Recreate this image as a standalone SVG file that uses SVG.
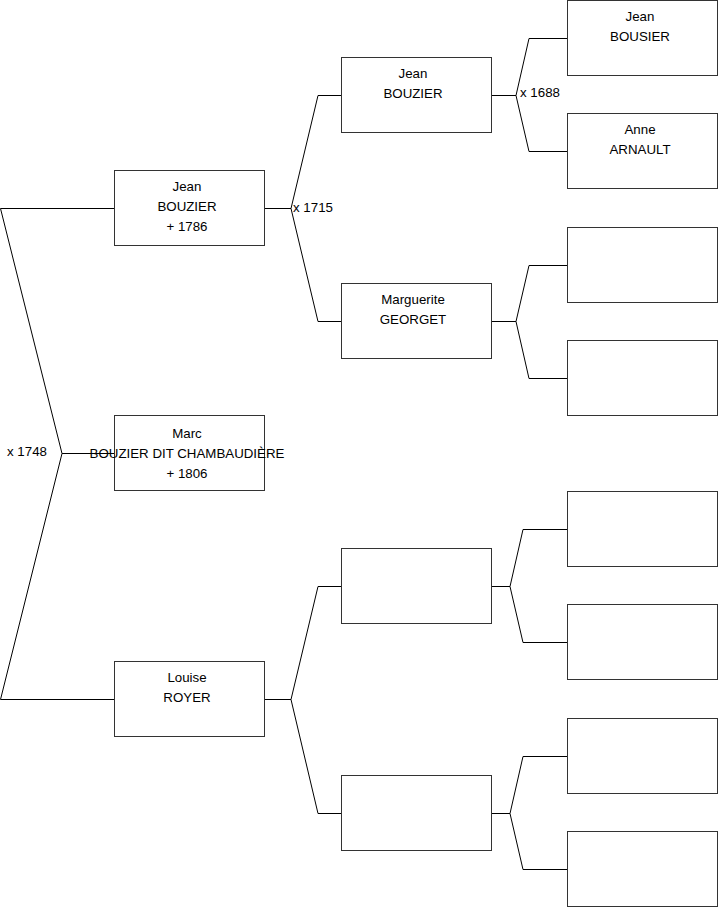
<svg xmlns="http://www.w3.org/2000/svg" width="719" height="908" viewBox="0 0 719 908">
<style>
.box{fill:#fff;stroke:#333;stroke-width:1}
.ln{fill:none;stroke:#000;stroke-width:1}
text{font-family:"Liberation Sans",Arial,sans-serif;font-size:13.3px;fill:#000;text-anchor:middle;dominant-baseline:middle}
.lbl{text-anchor:start}
</style>
<rect width="719" height="908" fill="#fff"/>
<g id="connectors">
<polyline class="ln" points="114,208.5 0.5,208.5 62,453.5 0.5,699.5 114,699.5"/>
<line class="ln" x1="62" y1="453.5" x2="114" y2="453.5"/>
<polyline class="ln" points="265,208.5 291,208.5"/>
<polyline class="ln" points="341,95.5 318,95.5 291,208.5 318,321.5 341,321.5"/>
<polyline class="ln" points="492,95.5 516,95.5"/>
<polyline class="ln" points="567,38.5 529,38.5 516,95.5 529,151.5 567,151.5"/>
<polyline class="ln" points="492,321.5 516,321.5"/>
<polyline class="ln" points="567,265.5 529,265.5 516,321.5 529,378.5 567,378.5"/>
<polyline class="ln" points="265,699.5 291,699.5"/>
<polyline class="ln" points="341,586.5 318,586.5 291,699.5 318,813.5 341,813.5"/>
<polyline class="ln" points="492,586.5 510,586.5"/>
<polyline class="ln" points="567,529.5 523,529.5 510,586.5 523,642.5 567,642.5"/>
<polyline class="ln" points="492,813.5 510,813.5"/>
<polyline class="ln" points="567,756.5 523,756.5 510,813.5 523,869.5 567,869.5"/>
</g>
<g id="labels">
<text class="lbl" x="293" y="208">x 1715</text>
<text class="lbl" x="7" y="452">x 1748</text>
<text class="lbl" x="520" y="93">x 1688</text>
</g>
<g id="n1"><rect class="box" x="114.5" y="170.5" width="150" height="75"/><text x="187" y="187">Jean</text><text x="187" y="207">BOUZIER</text><text x="187" y="227">+ 1786</text></g>
<g id="n0"><rect class="box" x="114.5" y="415.5" width="150" height="75"/><text x="187" y="434">Marc</text><text x="187" y="454">BOUZIER DIT CHAMBAUDIÈRE</text><text x="187" y="474">+ 1806</text></g>
<g id="n2"><rect class="box" x="114.5" y="661.5" width="150" height="75"/><text x="187" y="678">Louise</text><text x="187" y="698">ROYER</text></g>
<g id="n3"><rect class="box" x="341.5" y="57.5" width="150" height="75"/><text x="413" y="74">Jean</text><text x="413" y="94">BOUZIER</text></g>
<g id="n4"><rect class="box" x="341.5" y="283.5" width="150" height="75"/><text x="413" y="300">Marguerite</text><text x="413" y="320">GEORGET</text></g>
<g id="n5"><rect class="box" x="341.5" y="548.5" width="150" height="75"/></g>
<g id="n6"><rect class="box" x="341.5" y="775.5" width="150" height="75"/></g>
<g id="n7"><rect class="box" x="567.5" y="0.5" width="150" height="75"/><text x="640" y="17">Jean</text><text x="640" y="37">BOUSIER</text></g>
<g id="n8"><rect class="box" x="567.5" y="113.5" width="150" height="75"/><text x="640" y="130">Anne</text><text x="640" y="150">ARNAULT</text></g>
<g id="n9"><rect class="box" x="567.5" y="227.5" width="150" height="75"/></g>
<g id="n10"><rect class="box" x="567.5" y="340.5" width="150" height="75"/></g>
<g id="n11"><rect class="box" x="567.5" y="491.5" width="150" height="75"/></g>
<g id="n12"><rect class="box" x="567.5" y="604.5" width="150" height="75"/></g>
<g id="n13"><rect class="box" x="567.5" y="718.5" width="150" height="75"/></g>
<g id="n14"><rect class="box" x="567.5" y="831.5" width="150" height="75"/></g>
</svg>
